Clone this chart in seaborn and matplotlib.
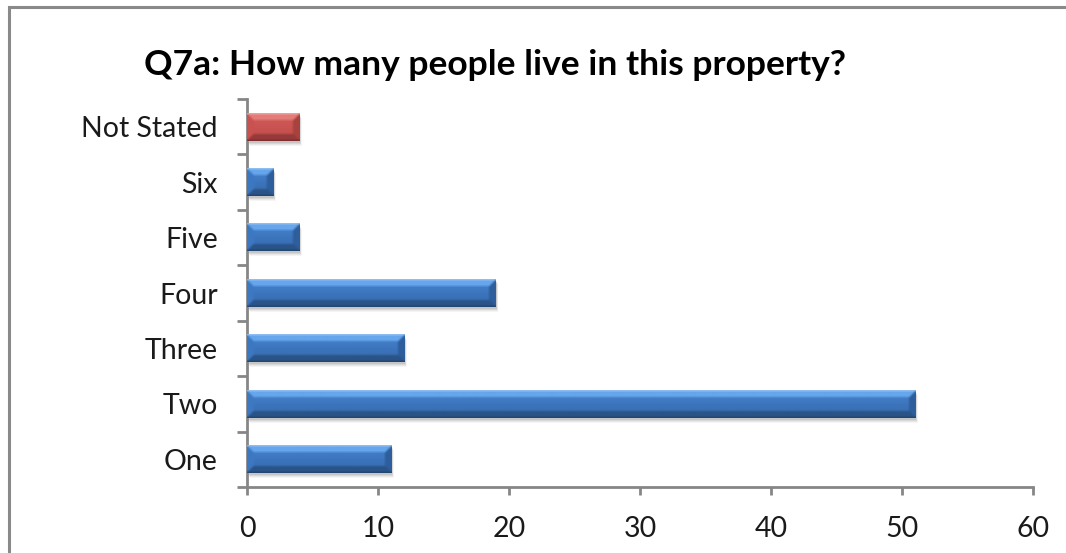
import numpy as np
import pandas as pd
import matplotlib
matplotlib.use("Agg")
import matplotlib.pyplot as plt
from matplotlib.patches import Rectangle
import matplotlib.transforms as mtransforms
import seaborn as sns

# Survey answers, listed top to bottom
categories = ["Not Stated", "Six", "Five", "Four", "Three", "Two", "One"]
counts = [4, 2, 4, 19, 12, 51, 11]
bar_colors = ["#C0504D", "#4F81BD", "#4F81BD", "#4F81BD", "#4F81BD", "#4F81BD", "#4F81BD"]
x_ticks = [0, 10, 20, 30, 40, 50, 60]
title = "Q7a: How many people live in this property?"

# Bevel shading per base colour: top facet, face top, face bottom, left, right, bottom facet
shades = {
    "#4F81BD": dict(top="#66a6ec", face_top="#4684d0", face_bot="#3467aa",
                    left="#3d78c2", right="#2e5e9c", bottom="#2a5488"),
    "#C0504D": dict(top="#e47c79", face_top="#d35c59", face_bot="#bf4b48",
                    left="#c9524f", right="#a8423f", bottom="#96393a"),
}

sns.set_style("white")
plt.rcParams["font.family"] = ["Lato", "DejaVu Sans"]

df = pd.DataFrame({"answer": categories, "count": counts})

fig = plt.figure(figsize=(10.66, 5.53), dpi=100)
ax = fig.add_axes([247 / 1066, 1 - 487 / 553, (1033 - 247) / 1066, (487 - 99) / 553])

sns.barplot(data=df, x="count", y="answer", hue="answer", palette=bar_colors,
            order=categories, hue_order=categories, orient="h", width=0.5,
            legend=False, ax=ax, saturation=1)

ax.set_xlim(0, 60)
ax.set_ylim(6.5, -0.5)
ax.set_xlabel("")
ax.set_ylabel("")

axis_gray = "#868686"
for side in ["top", "right"]:
    ax.spines[side].set_visible(False)
for side in ["left", "bottom"]:
    ax.spines[side].set_color(axis_gray)
    ax.spines[side].set_linewidth(2.0)

ax.set_xticks(x_ticks)
ax.set_xticklabels([str(t) for t in x_ticks])
ax.tick_params(axis="x", direction="out", length=6, width=2.0, color=axis_gray,
               pad=15, labelsize=20.5, labelcolor="#1a1a1a", bottom=True)

ax.set_yticks(range(len(categories)))
ax.set_yticklabels(categories)
ax.set_yticks(np.arange(-0.5, len(categories), 1.0), minor=True)
ax.tick_params(axis="y", which="major", length=0, pad=21, labelsize=20.5,
               labelcolor="#1a1a1a", left=False)
ax.tick_params(axis="y", which="minor", direction="out", length=7, width=2.0,
               color=axis_gray, left=True)
ax.grid(False)


def hex_rgb(h):
    h = h.lstrip("#")
    return np.array([int(h[i:i + 2], 16) for i in (0, 2, 4)]) / 255.0


def soften(img, r=1):
    # small box blur that keeps the outer size
    pad = np.pad(img, ((r, r), (r, r), (0, 0)), mode="edge")
    out = np.zeros_like(img)
    n = 0
    for dy in range(2 * r + 1):
        for dx in range(2 * r + 1):
            out += pad[dy:dy + img.shape[0], dx:dx + img.shape[1]]
            n += 1
    return out / n


def bevel_image(w_px, h_px, base):
    s = shades[base]
    w_px = max(int(round(w_px)), 2)
    h_px = max(int(round(h_px)), 2)
    yy, xx = np.mgrid[0:h_px, 0:w_px].astype(float)
    d_top = yy
    d_bot = h_px - 1 - yy
    d_left = xx
    d_right = w_px - 1 - xx
    stack = np.stack([d_top, d_bot, d_left, d_right])
    nearest = np.argmin(stack, axis=0)
    dmin = np.min(stack, axis=0)
    bev = max(3.0, h_px * 0.25)

    img = np.zeros((h_px, w_px, 3))
    ft, fb = hex_rgb(s["face_top"]), hex_rgb(s["face_bot"])
    t = (yy / (h_px - 1))[..., None]
    img[:] = ft * (1 - t) + fb * t
    facets = [hex_rgb(s["top"]), hex_rgb(s["bottom"]), hex_rgb(s["left"]), hex_rgb(s["right"])]
    in_bevel = dmin < bev
    for k, col in enumerate(facets):
        mask = in_bevel & (nearest == k)
        img[mask] = col
    # thin bright rim along the top and darker rim at the bottom
    img[0, :] = img[0, :] * 0.6 + 0.4
    img[-1, :] = img[-1, :] * 0.75
    return soften(img, 1)


to_px = ax.transData
for patch, base in zip(ax.patches, bar_colors):
    x0, y0 = patch.get_x(), patch.get_y()
    w, h = patch.get_width(), patch.get_height()
    if w <= 0:
        continue
    (px0, py0), (px1, py1) = to_px.transform([(x0, y0), (x0 + w, y0 + h)])
    w_px, h_px = abs(px1 - px0), abs(py1 - py0)

    # soft shadow beneath the bar
    for off, alpha in [(5, 0.04), (4, 0.05), (3, 0.07), (2, 0.08)]:
        shadow_tf = mtransforms.offset_copy(ax.transData, fig=fig, x=off * 0.5,
                                            y=-off, units="dots")
        ax.add_patch(Rectangle((x0, y0), w, h, facecolor="black", edgecolor="none",
                               alpha=alpha, transform=shadow_tf, zorder=1))

    img = bevel_image(w_px, h_px, base)
    y_top, y_bot = min(y0, y0 + h), max(y0, y0 + h)
    ax.imshow(img, extent=(x0, x0 + w, y_bot, y_top), origin="upper",
              aspect="auto", interpolation="bilinear", zorder=3)
    patch.set_zorder(2)
    patch.set_edgecolor("none")

ax.set_xlim(0, 60)
ax.set_ylim(6.5, -0.5)

fig.text(495 / 1066, 1 - 65 / 553, title, ha="center", va="center",
         fontsize=25.5, fontweight="bold", color="#000000")

# outer chart frame
fig.patches.append(Rectangle((9 / 1066, -0.2), 1.2, 1 - 7 / 553 + 0.2,
                             transform=fig.transFigure, fill=False,
                             edgecolor="#8a8a8a", linewidth=2.2, zorder=0))

fig.savefig("out.png", dpi=100, facecolor="white")
